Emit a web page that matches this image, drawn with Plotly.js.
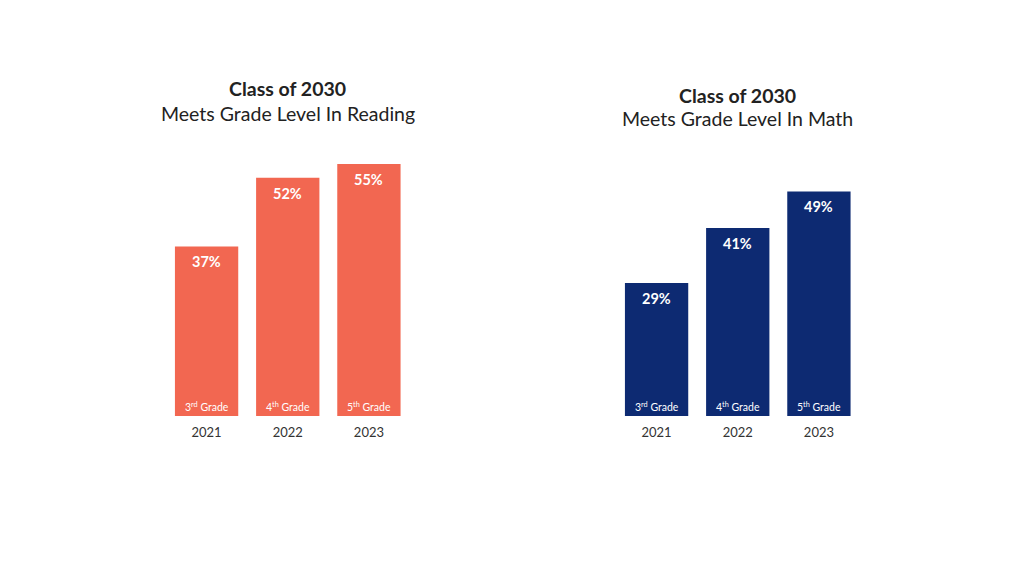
<!DOCTYPE html>
<html>
<head>
<meta charset="utf-8">
<script src="https://cdn.plot.ly/plotly-3.0.1.min.js"></script>
<style>
  html, body { margin: 0; padding: 0; background: #ffffff; }
  #chart { width: 1024px; height: 576px; }
</style>
</head>
<body>
<div id="chart"></div>
<script>
// Class of 2030 results, by school year
const years = ['2021', '2022', '2023'];
const grades = ['3<sup>rd</sup> Grade', '4<sup>th</sup> Grade', '5<sup>th</sup> Grade'];
const reading = [37, 52, 55];
const math = [29, 41, 49];

const READ_COLOR = '#F26751';
const MATH_COLOR = '#0D2A72';
const FONT = 'Lato, "Open Sans", sans-serif';

const traces = [
  { type: 'bar', x: years, y: reading, xaxis: 'x', yaxis: 'y',
    marker: { color: READ_COLOR }, hoverinfo: 'skip' },
  { type: 'bar', x: years, y: math, xaxis: 'x2', yaxis: 'y2',
    marker: { color: MATH_COLOR }, hoverinfo: 'skip' }
];

const annotations = [];

// value labels near the top of each bar, grade labels at the base
// (categories are addressed by index so the year strings are not read as numbers)
function addBarLabels(values, xref, yref) {
  values.forEach((v, i) => {
    annotations.push({
      xref: xref, yref: yref, x: i, y: v,
      text: '<b>' + v + '%</b>', showarrow: false,
      yanchor: 'top', yshift: -5,
      font: { family: FONT, size: 14.5, color: '#ffffff' }
    });
    annotations.push({
      xref: xref, yref: yref, x: i, y: 0,
      text: grades[i], showarrow: false,
      yanchor: 'bottom', yshift: 1,
      font: { family: FONT, size: 10.5, color: '#ffffff' }
    });
  });
}
addBarLabels(reading, 'x', 'y');
addBarLabels(math, 'x2', 'y2');

// chart headings
function addTitle(xref, mainY, subY, subText) {
  annotations.push({
    xref: xref, yref: 'paper', x: 0.5, y: mainY, xanchor: 'center', yanchor: 'middle',
    text: '<b>Class of 2030</b>', showarrow: false,
    font: { family: FONT, size: 19.5, color: '#222222' }
  });
  annotations.push({
    xref: xref, yref: 'paper', x: 0.5, y: subY, xanchor: 'center', yanchor: 'middle',
    text: subText, showarrow: false,
    font: { family: FONT, size: 19.5, color: '#222222' }
  });
}
// plot area spans pixels 141..416 vertically (275 px)
const py = p => (416 - p) / 275;
addTitle('x domain', py(88), py(113), 'Meets Grade Level In Reading');
addTitle('x2 domain', py(95), py(119), 'Meets Grade Level In Math');

const xBase = {
  type: 'category', range: [-0.5, 2.5], autorange: false,
  showgrid: false, zeroline: false, showline: false,
  ticks: '', fixedrange: true, ticklabelstandoff: 7,
  tickfont: { family: FONT, size: 13, color: '#333333' }
};
const yBase = {
  range: [0, 60], autorange: false, visible: false,
  showgrid: false, zeroline: false, fixedrange: true
};

const layout = {
  width: 1024, height: 576,
  margin: { l: 0, r: 0, t: 141, b: 160 },
  paper_bgcolor: '#ffffff', plot_bgcolor: '#ffffff',
  showlegend: false, bargap: 0.22,
  xaxis: Object.assign({}, xBase, { domain: [166 / 1024, 409.5 / 1024], anchor: 'y' }),
  xaxis2: Object.assign({}, xBase, { domain: [616 / 1024, 859.5 / 1024], anchor: 'y2' }),
  yaxis: Object.assign({}, yBase, { anchor: 'x' }),
  yaxis2: Object.assign({}, yBase, { anchor: 'x2' }),
  annotations: annotations
};

Plotly.newPlot('chart', traces, layout, { displayModeBar: false, staticPlot: true });
</script>
</body>
</html>
